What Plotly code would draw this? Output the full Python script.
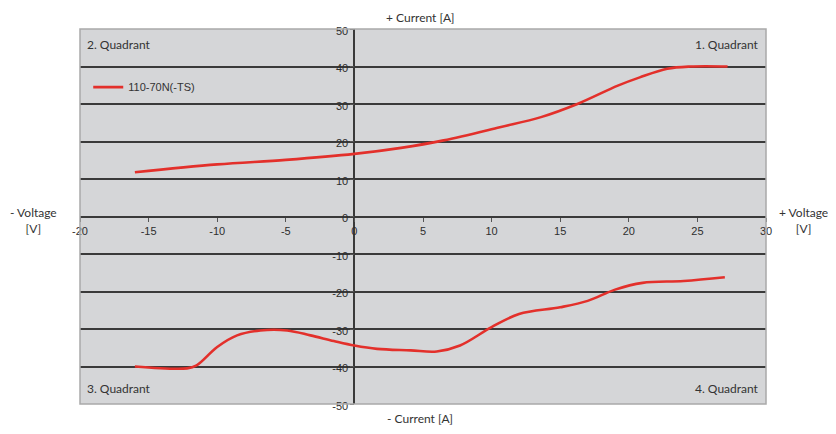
import plotly.graph_objects as go

# Data
series_name = "110-70N(-TS)"
upper_x = [-16, -10, -5, 0, 3.4, 6.5, 10.6, 13.6, 16.25, 19.2, 20.8, 22.8, 24.5, 27.2]
upper_y = [11.8, 13.9, 15.1, 16.7, 18.3, 20.3, 23.8, 26.5, 30.0, 34.9, 37.1, 39.4, 40.0, 40.0]
lower_x = [-16, -12.2, -11.5, -10, -8.55, -6.85, -4.9, -3.2, -1.5, 0, 1.65, 4.1, 6.0, 7.7, 10, 12, 15, 17, 19, 21, 24, 27]
lower_y = [-40.0, -40.5, -39.7, -34.8, -31.7, -30.4, -30.4, -31.7, -33.2, -34.4, -35.3, -35.7, -36.0, -34.4, -29.5, -26.0, -24.2, -22.5, -19.5, -17.7, -17.2, -16.2]

x_ticks = [-20, -15, -10, -5, 0, 5, 10, 15, 20, 25, 30]
x_tick_text = ["-20", "-15", "-10", "-5", "0", "5", "10", "15", "20", "25", "30"]
y_ticks = [-50, -40, -30, -20, -10, 0, 10, 20, 30, 40, 50]
y_tick_text = ["-50", "-40", "-30", "-20", "-10", "0", "10", "20", "30", "40", "50"]

red = "#e3302b"
label_font = dict(family="Lato, Open Sans, sans-serif", size=12, color="#333333")
tick_font = dict(family="Liberation Sans, Arial, sans-serif", size=11, color="#2e2e2e")

fig = go.Figure()
fig.add_trace(go.Scatter(x=upper_x, y=upper_y, mode="lines", name=series_name,
                         line=dict(color=red, width=2.6, shape="spline", smoothing=1.0)))
fig.add_trace(go.Scatter(x=lower_x, y=lower_y, mode="lines", name=series_name, showlegend=False,
                         line=dict(color=red, width=2.6, shape="spline", smoothing=1.0)))

fig.update_layout(
    width=836, height=434,
    margin=dict(l=72, r=78, t=21, b=38, autoexpand=False),
    paper_bgcolor="white",
    plot_bgcolor="#d5d6d8",
    showlegend=True,
    legend=dict(x=0.012, y=0.845, xanchor="left", yanchor="middle", bgcolor="rgba(0,0,0,0)",
                font=dict(family="Liberation Sans, Arial, sans-serif", size=11, color="#333333"),
                itemwidth=30),
    xaxis=dict(range=[-20, 30], tickvals=x_ticks, ticktext=x_tick_text, showgrid=False, zeroline=True,
               zerolinecolor="#3a3a3a", zerolinewidth=1.5, automargin=False,
               anchor="free", position=0.5, showline=False,
               ticks="outside", ticklen=4, tickcolor="#555555",
               tickfont=tick_font, fixedrange=True),
    yaxis=dict(range=[-50, 50], tickvals=y_ticks, ticktext=y_tick_text, showgrid=True,
               gridcolor="#3a3a3a", gridwidth=1.5, automargin=False,
               zeroline=True, zerolinecolor="#3a3a3a", zerolinewidth=1.5,
               anchor="free", position=0.4, showline=False,
               ticks="outside", ticklen=4, tickcolor="#555555", ticklabelshift=2,
               tickfont=tick_font, fixedrange=True),
    shapes=[dict(type="rect", xref="paper", yref="paper", x0=0, y0=0, x1=1, y1=1,
                 line=dict(color="#a9a9a9", width=1.5), fillcolor="rgba(0,0,0,0)", layer="above")],
)

ann = []
def add(text, x, y, xanchor="center", yanchor="middle", align="center"):
    ann.append(dict(text=text, x=x, y=y, xref="paper", yref="paper", showarrow=False,
                    xanchor=xanchor, yanchor=yanchor, align=align, font=label_font))

add("2. Quadrant", 0.008, 0.985, "left", "top")
add("1. Quadrant", 0.993, 0.985, "right", "top")
add("3. Quadrant", 0.008, 0.015, "left", "bottom")
add("4. Quadrant", 0.993, 0.015, "right", "bottom")
add("+ Current [A]", 0.495, 1.005, "center", "bottom")
add("- Current [A]", 0.495, -0.012, "center", "top")
add("- Voltage<br>[V]", -0.068, 0.49, "center", "middle")
add("+ Voltage<br>[V]", 1.055, 0.49, "center", "middle")
fig.update_layout(annotations=ann)

fig.write_html("out.html")
